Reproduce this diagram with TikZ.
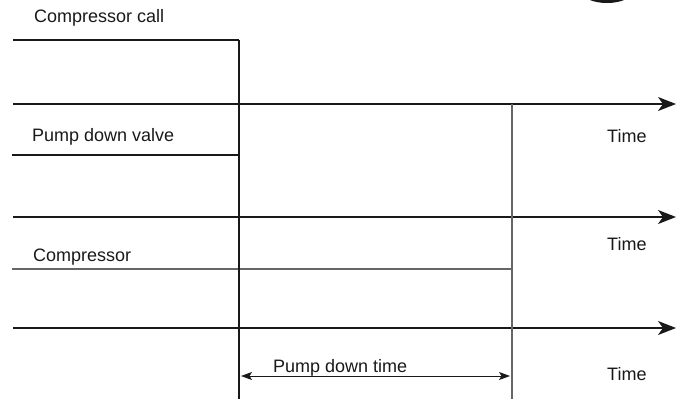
\documentclass[tikz,border=0pt]{standalone}
\usepackage{fontspec}
\setmainfont{Liberation Sans}
\usetikzlibrary{arrows.meta,positioning}
\colorlet{InkDark}{black!90}
\colorlet{InkGrey}{black!60}

\begin{document}
\begin{tikzpicture}[x=1pt,y=-1pt,
    lbl/.style={font=\fontsize{18}{21}\selectfont,anchor=base west,inner sep=0pt,text=InkDark},
    axis/.style={-{Stealth[length=18pt,width=14pt,inset=5pt]},line width=1.4pt,InkDark},
    level/.style={line width=1.1pt,InkDark},
    cut/.style={line width=1.1pt},
    span/.style={{Stealth[length=11pt,width=8pt,inset=2.5pt]}-{Stealth[length=11pt,width=8pt,inset=2.5pt]},line width=0.9pt,InkDark}
  ]
    \useasboundingbox (0,0) rectangle (684,400);
    % blot at top edge
    \fill[InkDark] (607,-8) ellipse [x radius=25, y radius=11];
    % time axes
    \coordinate (ax1s) at (13,104); \coordinate (ax1e) at (676,104);
    \coordinate (ax2s) at (13,217); \coordinate (ax2e) at (676,217);
    \coordinate (ax3s) at (13,328); \coordinate (ax3e) at (676,328);
    \draw[axis] (ax1s)--(ax1e);
    \draw[axis] (ax2s)--(ax2e);
    \draw[axis] (ax3s)--(ax3e);
    % signal levels
    \coordinate (callA) at (13,40);  \coordinate (callB) at (239,40);
    \coordinate (valveA) at (12,155); \coordinate (valveB) at (239,155);
    \coordinate (compA) at (12,269); \coordinate (compB) at (513,269);
    \draw[level] (callA)--(callB);
    \draw[level] (valveA)--(valveB);
    \draw[level,InkGrey] (compA)--(compB);
    % switching instants
    \coordinate (t1bot) at (239,399);
    \coordinate (t2top) at (512,104); \coordinate (t2bot) at (512,399);
    \draw[cut,InkDark] (callB)--(t1bot);
    \draw[cut,InkGrey] (t2top)--(t2bot);
    % labels
    \node[lbl] (call) at (34,22) {Compressor call};
    \node[lbl] (valve) at (32,141) {Pump down valve};
    \node[lbl] (comp) at (33,261) {Compressor};
    \node[lbl] (time1) at (607,142) {Time};
    \node[lbl] (time2) at (607,250) {Time};
    \node[lbl] (time3) at (607,380) {Time};
    \node[lbl] (pdt) at (273,372) {Pump down time};
    % pump down interval
    \coordinate (pdA) at (241,376); \coordinate (pdB) at (510,376);
    \draw[span] (pdA)--(pdB);
  \end{tikzpicture}
\end{document}
